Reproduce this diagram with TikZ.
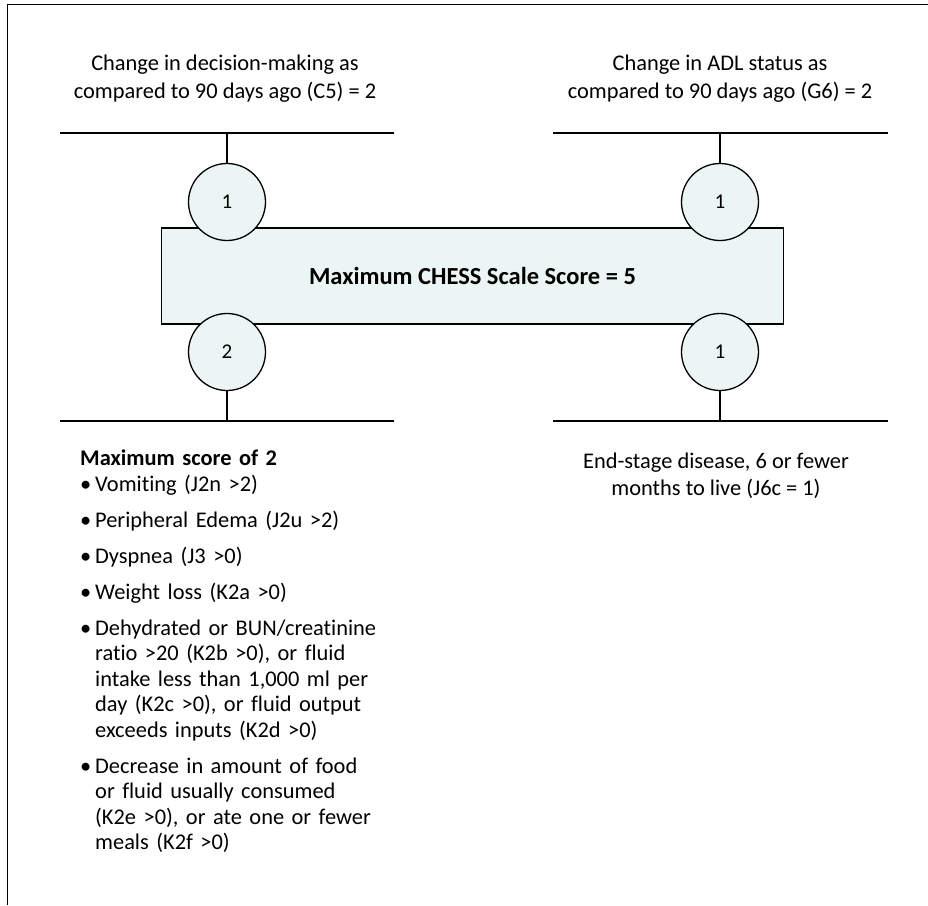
\documentclass[tikz,border=0pt]{standalone}
\usepackage{fontspec}
\setmainfont{Carlito}[Ligatures=NoCommon]
\definecolor{scorefill}{RGB}{235,245,243}
\newcommand{\bulletitem}[1]{\par\hangindent=15pt\hangafter=1\noindent\makebox[15pt][l]{•}#1\par}
\begin{document}
\begin{tikzpicture}[x=1pt,y=-1pt,
  frameline/.style={draw=black,line width=1pt},
  barline/.style={draw=black,line width=1.6pt},
  stubline/.style={draw=black,line width=1.3pt},
  scorebox/.style={draw=black,line width=1.3pt,fill=scorefill,minimum width=622pt,minimum height=96pt,inner sep=0pt},
  pointcircle/.style={circle,draw=black,line width=1.3pt,fill=scorefill,minimum size=77pt,inner sep=0pt,font=\fontsize{21}{25}\selectfont},
  label/.style={align=center,font=\fontsize{22.4}{28}\selectfont,inner sep=0pt}]
\useasboundingbox (0,0) rectangle (928,905);

% outer frame (top and left edges)
\coordinate (fbl) at (7,905);
\coordinate (ftl) at (7,4);
\coordinate (ftr) at (928,4);
\draw[frameline] (fbl) -- (ftl) -- (ftr);

% central score box
\node[scorebox] (box) at (472.5,276) {\fontsize{24.5}{28}\selectfont\bfseries Maximum CHESS Scale Score = 5};

% contributing items
\node[pointcircle] (c1) at (227,202) {1};
\node[pointcircle] (c2) at (720,202) {1};
\node[pointcircle] (c3) at (227,352) {2};
\node[pointcircle] (c4) at (720,352) {1};

% bars and stubs
\coordinate (t1) at (227,133);
\coordinate (t1a) at (60,133);
\coordinate (t1b) at (394,133);
\coordinate (t2) at (720,133);
\coordinate (t2a) at (553,133);
\coordinate (t2b) at (888,133);
\coordinate (b1) at (227,421);
\coordinate (b1a) at (60,421);
\coordinate (b1b) at (394,421);
\coordinate (b2) at (720,421);
\coordinate (b2a) at (553,421);
\coordinate (b2b) at (888,421);
\draw[barline] (t1a) -- (t1b);
\draw[barline] (t2a) -- (t2b);
\draw[barline] (b1a) -- (b1b);
\draw[barline] (b2a) -- (b2b);
\draw[stubline] (t1) -- (c1.north);
\draw[stubline] (t2) -- (c2.north);
\draw[stubline] (b1) -- (c3.south);
\draw[stubline] (b2) -- (c4.south);

% item descriptions
\node[label] (d1) at (225,79) {Change in decision-making as\\compared to 90 days ago (C5) = 2};
\node[label] (d2) at (720,79) {Change in ADL status as\\compared to 90 days ago (G6) = 2};
\node[label,font=\fontsize{22.4}{27}\selectfont] (d4) at (716,475.5) {End-stage disease, 6 or fewer\\months to live (J6c = 1)};

\node[anchor=north west,inner sep=0pt,text width=300pt,font=\fontsize{22.4}{25.5}\selectfont] (d3) at (80,450) {%
  \raggedright\parskip=10.5pt
  \noindent\textbf{Maximum score of 2}\par\vspace{-10.5pt}
  \bulletitem{Vomiting (J2n >2)}
  \bulletitem{Peripheral Edema (J2u >2)}
  \bulletitem{Dyspnea (J3 >0)}
  \bulletitem{Weight loss (K2a >0)}
  \bulletitem{Dehydrated or BUN/creatinine\newline ratio >20 (K2b >0), or fluid\newline intake less than 1,000 ml per\newline day (K2c >0), or fluid output\newline exceeds inputs (K2d >0)}
  \bulletitem{Decrease in amount of food\newline or fluid usually consumed\newline (K2e >0), or ate one or fewer\newline meals (K2f >0)}};
\end{tikzpicture}
\end{document}
